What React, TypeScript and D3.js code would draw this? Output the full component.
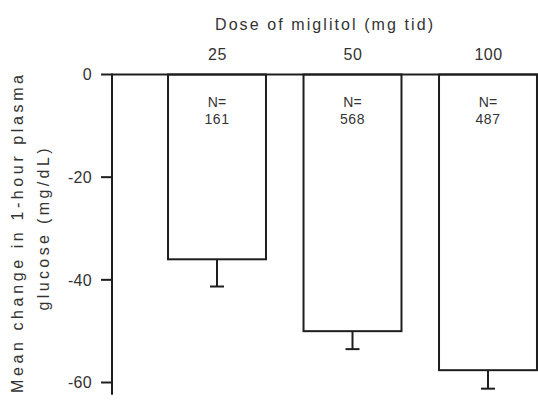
import React from "react";
import * as d3 from "d3";

const doses = ["25", "50", "100"];
const means = [-36, -50, -57.6];
const errorEnds = [-41.3, -53.5, -61.2];
const counts = ["161", "568", "487"];
const yTicks = [0, -20, -40, -60];
const xTitle = "Dose of miglitol (mg tid)";
const yTitle1 = "Mean change in 1-hour plasma";
const yTitle2 = "glucose (mg/dL)";

const W = 538;
const H = 404;
const FONT = "'Liberation Sans', Arial, Helvetica, sans-serif";
const TEXT = "#333";
const LINE = "#1e1e1e";

export default function App() {
  const y = d3.scaleLinear().domain([0, -60]).range([74.5, 382.5]);
  const x = d3
    .scaleBand<string>()
    .domain(doses)
    .range([149.25, 555.75])
    .paddingInner(0.277)
    .paddingOuter(0.1385);
  const axisX = 112;
  const axisBottom = y(-62.4);
  const bw = x.bandwidth();

  return (
    <svg
      width={W}
      height={H}
      viewBox={`0 0 ${W} ${H}`}
      style={{ position: "absolute", left: 0, top: 0, background: "#fff" }}
      fontFamily={FONT}
    >
      <text
        x={324}
        y={29.5}
        fontSize={16}
        fill={TEXT}
        textAnchor="middle"
        textLength={218}
        lengthAdjust="spacing"
      >
        {xTitle}
      </text>
      {doses.map((d) => (
        <text
          key={d}
          x={(x(d) as number) + bw / 2 + 0.5}
          y={59.5}
          fontSize={16}
          fill={TEXT}
          textAnchor="middle"
          letterSpacing={0.5}
        >
          {d}
        </text>
      ))}
      <text
        transform={`translate(23, 234) rotate(-90)`}
        fontSize={16}
        fill={TEXT}
        textAnchor="middle"
        textLength={318}
        lengthAdjust="spacing"
      >
        {yTitle1}
      </text>
      <text
        transform={`translate(48.5, 229.5) rotate(-90)`}
        fontSize={16}
        fill={TEXT}
        textAnchor="middle"
        textLength={162}
        lengthAdjust="spacing"
      >
        {yTitle2}
      </text>
      {doses.map((d, i) => (
        <rect
          key={d}
          x={x(d) as number}
          y={y(0)}
          width={bw}
          height={y(means[i]) - y(0)}
          fill="#fff"
          stroke={LINE}
          strokeWidth={2}
        />
      ))}
      {doses.map((d, i) => {
        const cx = (x(d) as number) + bw / 2;
        return (
          <g key={d} stroke={LINE} strokeWidth={2}>
            <line x1={cx} x2={cx} y1={y(means[i])} y2={y(errorEnds[i])} />
            <line x1={cx - 7} x2={cx + 7} y1={y(errorEnds[i])} y2={y(errorEnds[i])} />
          </g>
        );
      })}
      {doses.map((d, i) => {
        const cx = (x(d) as number) + bw / 2;
        return (
          <g key={d} fill={TEXT} fontSize={14} textAnchor="middle">
            <text x={cx} y={107}>
              N=
            </text>
            <text x={cx} y={123.5} letterSpacing={0.5}>
              {counts[i]}
            </text>
          </g>
        );
      })}
      <line x1={axisX} x2={W} y1={y(0)} y2={y(0)} stroke={LINE} strokeWidth={2} />
      <line x1={axisX} x2={axisX} y1={y(0) - 1} y2={axisBottom} stroke={LINE} strokeWidth={2} />
      {yTicks.map((t) => (
        <g key={t}>
          <line x1={axisX - 11} x2={axisX} y1={y(t)} y2={y(t)} stroke={LINE} strokeWidth={2} />
          <text
            x={92}
            y={y(t)}
            dy="0.36em"
            fontSize={16}
            fill={TEXT}
            textAnchor="end"
            letterSpacing={0.3}
          >
            {t}
          </text>
        </g>
      ))}
    </svg>
  );
}
